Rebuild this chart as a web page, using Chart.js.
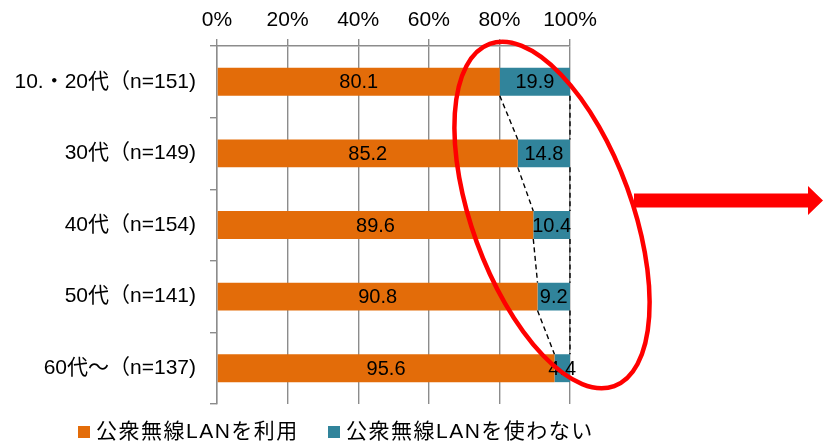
<!DOCTYPE html>
<html lang="ja">
<head>
    <meta charset="UTF-8">
    <title>公衆無線LAN</title>
    <script src="https://cdn.jsdelivr.net/npm/chart.js"></script>
    <style>
        body { margin: 0; background: #fff; }
        #wrap { width: 827px; height: 447px; }
    </style>
</head>
<body>
<div id="wrap"><canvas id="myChart" width="827" height="447"></canvas></div>

<script>
    // données
    var categories = ['10.・20代（n=151)', '30代（n=149)', '40代（n=154)', '50代（n=141)', '60代～（n=137)'];
    var useLan = [80.1, 85.2, 89.6, 90.8, 95.6];
    var noUseLan = [19.9, 14.8, 10.4, 9.2, 4.4];
    var seriesNames = ['公衆無線LANを利用', '公衆無線LANを使わない'];
    var seriesColors = ['#E36C09', '#31849B'];

    var FONT = '"Liberation Sans", Arial, "Noto Sans CJK JP", sans-serif';

    // labels, lignes de séries, légende et annotation
    var extras = {
        id: 'extras',
        afterDatasetsDraw: function (chart) {
            var ctx = chart.ctx;
            var x = chart.scales.x;
            var m0 = chart.getDatasetMeta(0).data;
            var m1 = chart.getDatasetMeta(1).data;

            // lignes pointillées entre les barres
            ctx.save();
            ctx.strokeStyle = '#000';
            ctx.lineWidth = 1.4;
            ctx.setLineDash([5, 3.5]);
            for (var i = 0; i < m0.length - 1; i++) {
                var a = m0[i], b = m0[i + 1];
                ctx.beginPath();
                ctx.moveTo(x.getPixelForValue(useLan[i]), a.y + a.height / 2);
                ctx.lineTo(x.getPixelForValue(useLan[i + 1]), b.y - b.height / 2);
                ctx.stroke();
                ctx.beginPath();
                ctx.moveTo(x.getPixelForValue(useLan[i] + noUseLan[i]), a.y + a.height / 2);
                ctx.lineTo(x.getPixelForValue(useLan[i + 1] + noUseLan[i + 1]), b.y - b.height / 2);
                ctx.stroke();
            }
            ctx.restore();

            // valeurs
            ctx.save();
            ctx.font = '20px ' + FONT;
            ctx.fillStyle = '#000';
            ctx.textAlign = 'center';
            ctx.textBaseline = 'middle';
            [m0, m1].forEach(function (bars, d) {
                var vals = d === 0 ? useLan : noUseLan;
                bars.forEach(function (bar, i) {
                    var cx = (bar.x + bar.base) / 2;
                    ctx.fillText(vals[i].toFixed(1), cx, bar.y + 1);
                });
            });
            ctx.restore();
        },
        afterDraw: function (chart) {
            var ctx = chart.ctx;

            // légende
            ctx.save();
            ctx.font = '21px ' + FONT;
            ctx.letterSpacing = '1.5px';
            ctx.textBaseline = 'middle';
            var lx = [78, 328];
            for (var k = 0; k < 2; k++) {
                ctx.fillStyle = seriesColors[k];
                ctx.fillRect(lx[k], 426, 12, 12);
                ctx.fillStyle = '#000';
                ctx.fillText(seriesNames[k], lx[k] + 18, 432);
            }
            ctx.restore();

            // ellipse rouge
            ctx.save();
            ctx.strokeStyle = '#FF0000';
            ctx.lineWidth = 4.5;
            ctx.beginPath();
            ctx.ellipse(552, 215, 80, 182, -20 * Math.PI / 180, 0, Math.PI * 2);
            ctx.stroke();

            // flèche
            ctx.fillStyle = '#FF0000';
            ctx.beginPath();
            ctx.moveTo(634, 193.5);
            ctx.lineTo(808, 193.5);
            ctx.lineTo(808, 186);
            ctx.lineTo(823, 200.5);
            ctx.lineTo(808, 215);
            ctx.lineTo(808, 207.5);
            ctx.lineTo(634, 207.5);
            ctx.closePath();
            ctx.fill();
            ctx.restore();
        }
    };

    var ctx = document.getElementById('myChart').getContext('2d');
    var myChart = new Chart(ctx, {
        type: 'bar',
        data: {
            labels: categories,
            datasets: [{
                label: seriesNames[0],
                data: useLan,
                backgroundColor: seriesColors[0],
                categoryPercentage: 1,
                barPercentage: 0.39
            }, {
                label: seriesNames[1],
                data: noUseLan,
                backgroundColor: seriesColors[1],
                categoryPercentage: 1,
                barPercentage: 0.39
            }]
        },
        options: {
            indexAxis: 'y',
            responsive: false,
            animation: false,
            layout: { padding: { left: 0, right: 257, top: 0, bottom: 43 } },
            plugins: {
                legend: { display: false },
                tooltip: { enabled: false }
            },
            scales: {
                x: {
                    position: 'top',
                    stacked: true,
                    min: 0,
                    max: 100,
                    ticks: {
                        stepSize: 20,
                        padding: 6,
                        color: '#000',
                        font: { family: FONT, size: 21 },
                        callback: function (v) { return v + '%'; }
                    },
                    grid: { color: '#8c8c8c', lineWidth: 1.4, tickLength: 7 },
                    border: { color: '#8c8c8c', width: 1.4 },
                    afterFit: function (s) { s.height = 46; }
                },
                y: {
                    stacked: true,
                    ticks: {
                        padding: 14,
                        color: '#000',
                        font: { family: FONT, size: 21 }
                    },
                    grid: { color: '#8c8c8c', lineWidth: 1.4, tickLength: 7, drawOnChartArea: false, offset: true },
                    border: { color: '#8c8c8c', width: 1.4 },
                    afterFit: function (s) { s.width = 217; }
                }
            }
        },
        plugins: [extras]
    });
</script>
</body>
</html>
